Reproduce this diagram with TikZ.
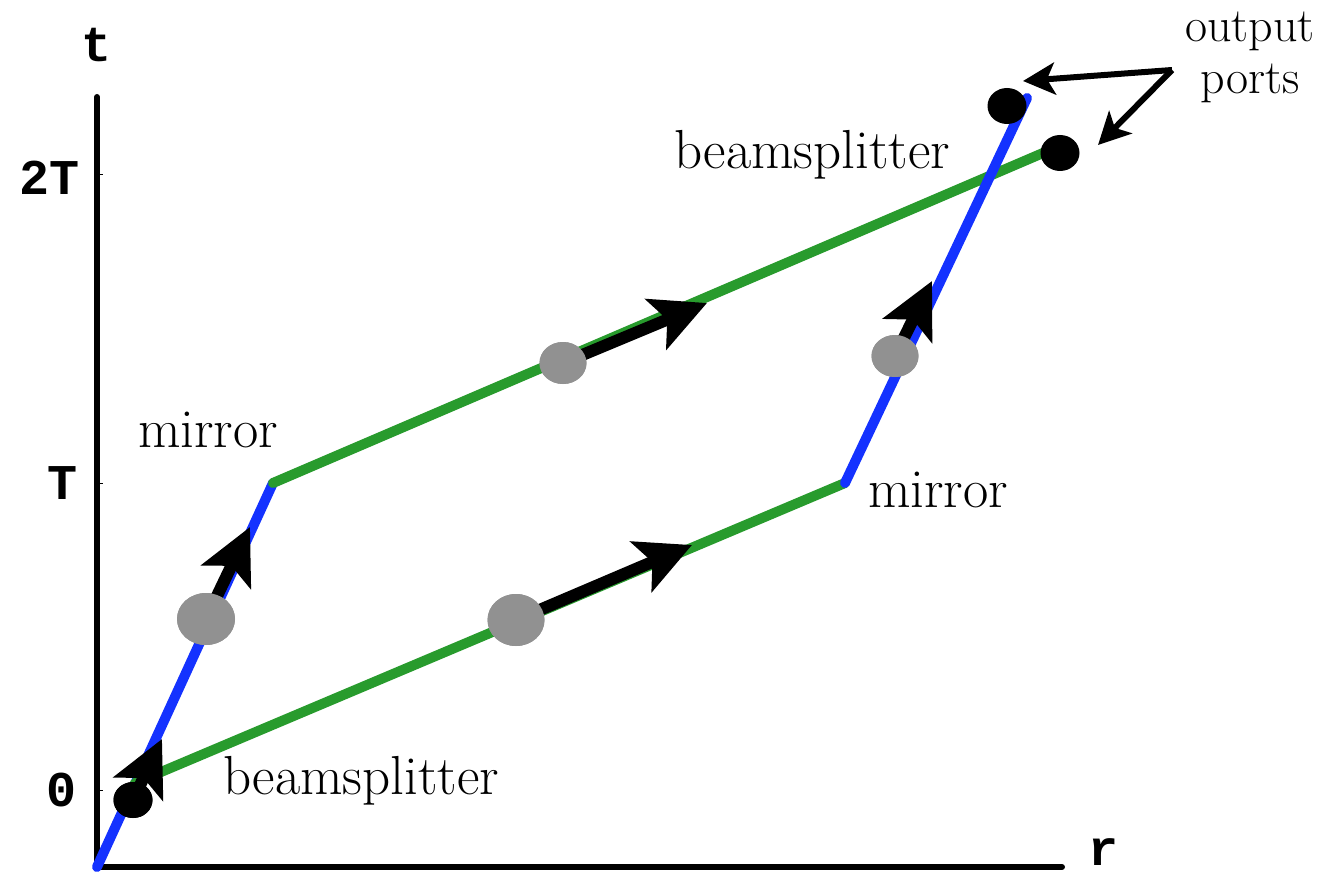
\documentclass[tikz,border=0pt]{standalone}
\usepackage{fontspec}
\setmonofont{Liberation Mono}
\usetikzlibrary{arrows.meta,shapes.geometric}
\definecolor{beamblue}{RGB}{20,50,255}
\definecolor{beamgreen}{RGB}{40,155,45}
\definecolor{atomgray}{RGB}{145,145,145}
\tikzset{
  beam/.style={line width=10pt,line cap=round},
  motion/.style={line width=12pt,-{Stealth[length=55pt,width=54pt,inset=12pt]}},
  pointer/.style={line width=6pt,-{Stealth[length=32pt,width=32pt,inset=8pt]}},
  atom/.style={ellipse,fill=atomgray,inner sep=0pt},
  port/.style={ellipse,fill=black,inner sep=0pt,minimum width=39pt,minimum height=36pt},
  lbl/.style={font=\fontsize{55}{54}\selectfont,inner sep=0pt},
  axlbl/.style={font=\fontsize{50}{52}\selectfont\ttfamily\bfseries,inner sep=0pt}
}
\begin{document}
\begin{tikzpicture}[x=1pt,y=-1pt]
\useasboundingbox (0,0) rectangle (1332,877);
% axes
\coordinate (top) at (97,97);
\coordinate (o) at (97,867);
\coordinate (right) at (1062,867);
\draw[line width=6pt,line cap=round] (top) -- (o) -- (right);
\foreach \y in {175,483,790} \draw[line width=1pt] (97,\y) -- (103,\y);
\node[axlbl] (tlbl) at (97,45) {t};
\node[axlbl] (rlbl) at (1103,852) {r};
\node[axlbl] (twoT) at (50,178) {2T};
\node[axlbl] (oneT) at (63,483) {T};
\node[axlbl] (zero) at (62,790) {0};
% paths
\coordinate (bs1) at (135,783);
\coordinate (m1) at (273,483);
\coordinate (m2) at (845,483);
\coordinate (endb) at (1027,98);
\coordinate (endg) at (1050,150);
\draw[beam,beamblue] (o) -- (m1);
\draw[beam,beamgreen] (m1) -- (endg);
\draw[beam,beamgreen] (bs1) -- (m2);
\draw[beam,beamblue] (m2) -- (endb);
% motion arrows
\coordinate (tip0) at (162,739);
\coordinate (tip1) at (250,527);
\coordinate (tip2) at (692,545);
\coordinate (tip3) at (707,303);
\coordinate (tip4) at (932,281);
\node[port] (in) at (133,800) {};
\node[atom,minimum width=58pt,minimum height=52pt] (g1) at (206,619) {};
\node[atom,minimum width=57pt,minimum height=52pt] (g2) at (516,620) {};
\node[atom,minimum width=47pt,minimum height=42pt] (g3) at (563,363) {};
\node[atom,minimum width=47pt,minimum height=42pt] (g4) at (895,356) {};
\draw[motion] (in.center) -- (tip0);
\draw[motion] (g1.center) -- (tip1);
\draw[motion] (g2.center) -- (tip2);
\draw[motion] (g3.center) -- (tip3);
\draw[motion] (g4.center) -- (tip4);
\node[port] at (in) {};
\node[atom,minimum width=58pt,minimum height=52pt] at (g1) {};
\node[atom,minimum width=57pt,minimum height=52pt] at (g2) {};
\node[atom,minimum width=47pt,minimum height=42pt] at (g3) {};
\node[atom,minimum width=47pt,minimum height=42pt] at (g4) {};
% output ports
\node[port] (out1) at (1007,106) {};
\node[port] (out2) at (1060,153) {};
\node[lbl,font=\fontsize{48}{52}\selectfont,align=center] (ports) at (1250,57) {output\\ports};
\coordinate (fork) at (1172,70);
\coordinate (tip5) at (1023,81);
\coordinate (tip6) at (1098,145);
\draw[pointer] (fork) -- (tip5);
\draw[pointer] (fork) -- (tip6);
% labels
\node[lbl] (bslow) at (361,781) {beamsplitter};
\node[lbl] (bsup) at (812,155) {beamsplitter};
\node[lbl] (mirl) at (208,430) {mirror};
\node[lbl] (mirr) at (938,490) {mirror};
\end{tikzpicture}
\end{document}
